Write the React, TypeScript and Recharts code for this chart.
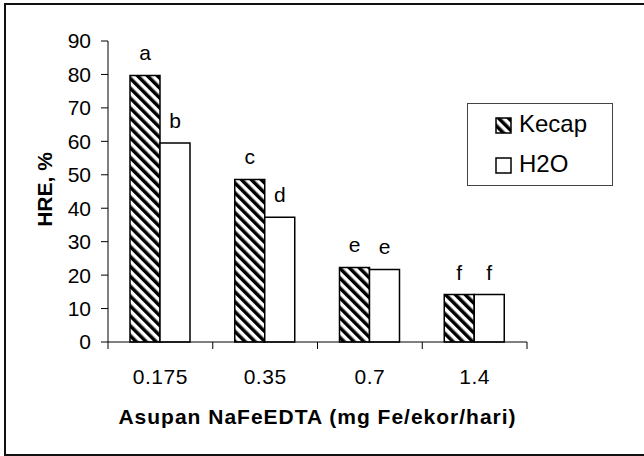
import { Bar, BarChart, LabelList, Legend, XAxis, YAxis } from "recharts";

const FONT = "'Liberation Sans', Arial, sans-serif";

// doses (mg Fe/ekor/hari)
const categories = ["0.175", "0.35", "0.7", "1.4"];
const seriesNames = ["Kecap", "H2O"];
const kecap = [79.7, 48.6, 22.3, 14.2];
const h2o = [59.5, 37.3, 21.7, 14.2];
const kecapLetters = ["a", "c", "e", "f"];
const h2oLetters = ["b", "d", "e", "f"];
const yTicks = [0, 10, 20, 30, 40, 50, 60, 70, 80, 90];

const data = categories.map((c, i) => ({
  dose: c,
  Kecap: kecap[i],
  H2O: h2o[i],
  kecapSig: kecapLetters[i],
  h2oSig: h2oLetters[i],
}));

function CategoryTick(props: any) {
  const { x, y, payload, index } = props;
  const half = payload?.offset ?? 0;
  return (
    <g>
      <line x1={x - half} x2={x - half} y1={y} y2={y + 7} stroke="#000" />
      {index === categories.length - 1 && (
        <line x1={x + half} x2={x + half} y1={y} y2={y + 7} stroke="#000" />
      )}
      <text x={x} y={y + 42} textAnchor="middle" fill="#000" fontSize={21} fontFamily={FONT} letterSpacing={0.5}>
        {payload.value}
      </text>
    </g>
  );
}

function YTitle(props: any) {
  const vb = props.viewBox || { x: 0, y: 0, width: 0, height: 0 };
  const cx = vb.x + 44;
  const cy = vb.y + vb.height / 2 - 2;
  return (
    <text
      x={cx}
      y={cy}
      transform={`rotate(-90 ${cx} ${cy})`}
      textAnchor="middle"
      dominantBaseline="central"
      fontSize={21}
      fontWeight="bold"
      fontFamily={FONT}
      fill="#000"
    >
      HRE, %
    </text>
  );
}

function Swatch({ hatched }: { hatched: boolean }) {
  return (
    <svg width={17} height={17} style={{ position: "absolute", left: 27, top: -8 }}>
      <defs>
        <pattern id="hatchLegend" width="7" height="7" patternUnits="userSpaceOnUse" patternTransform="rotate(-45)">
          <rect width="7" height="7" fill="#fff" />
          <rect width="3.5" height="7" fill="#000" />
        </pattern>
      </defs>
      <rect x={1} y={1} width={15} height={15} fill={hatched ? "url(#hatchLegend)" : "#fff"} stroke="#000" strokeWidth={1.5} />
    </svg>
  );
}

function LegendBox() {
  return (
    <div
      style={{
        position: "relative",
        width: 146,
        height: 83,
        border: "1.5px solid #444",
        boxSizing: "border-box",
        background: "#fff",
        fontFamily: FONT,
        fontSize: 24,
        color: "#000",
      }}
    >
      {seriesNames.map((name, i) => (
        <div key={name} style={{ position: "absolute", left: 0, top: 21 + i * 40, width: "100%" }}>
          <Swatch hatched={i === 0} />
          <span style={{ position: "absolute", left: 51, top: -14, lineHeight: "26px", whiteSpace: "nowrap" }}>{name}</span>
        </div>
      ))}
    </div>
  );
}

export default function App() {
  return (
    <div style={{ position: "absolute", left: 0, top: 0, width: 644, height: 456, background: "#fff" }}>
      <div
        style={{
          position: "absolute",
          left: 4,
          top: 3,
          width: 640,
          height: 453,
          border: "2px solid #111",
          borderRight: "none",
          boxSizing: "border-box",
        }}
      />
      <BarChart
        width={644}
        height={456}
        data={data}
        margin={{ top: 41, right: 117, bottom: 0, left: 0 }}
        barCategoryGap="21%"
        barGap={0}
        style={{ position: "absolute", left: 0, top: 0 }}
      >
        <defs>
          <pattern id="hatch" width="7" height="7" patternUnits="userSpaceOnUse" patternTransform="rotate(-45)">
            <rect width="7" height="7" fill="#fff" />
            <rect width="3.5" height="7" fill="#000" />
          </pattern>
        </defs>
        <XAxis
          dataKey="dose"
          height={114}
          tickLine={false}
          tickSize={0}
          tickMargin={0}
          axisLine={{ stroke: "#000" }}
          tick={<CategoryTick />}
          interval={0}
          label={{
            value: "Asupan NaFeEDTA (mg Fe/ekor/hari)",
            position: "insideBottom",
            offset: 32,
            fill: "#000",
            fontSize: 21,
            fontWeight: "bold",
            fontFamily: FONT,
            letterSpacing: 1,
          }}
        />
        <YAxis
          width={108}
          domain={[0, 90]}
          ticks={yTicks}
          interval={0}
          tickSize={7}
          tickMargin={10}
          axisLine={{ stroke: "#000" }}
          tickLine={{ stroke: "#000" }}
          tick={{ fill: "#000", fontSize: 21, fontFamily: FONT }}
          label={<YTitle />}
        />
        <Legend
          layout="vertical"
          align="center"
          verticalAlign="middle"
          content={<LegendBox />}
          wrapperStyle={{ position: "absolute", left: 467, top: 103, width: 146, height: 83 }}
        />
        <Bar dataKey="Kecap" fill="url(#hatch)" stroke="#000" strokeWidth={1.5} isAnimationActive={false}>
          <LabelList dataKey="kecapSig" position="top" offset={15} fill="#000" fontSize={21} fontFamily={FONT} />
        </Bar>
        <Bar dataKey="H2O" fill="#fff" stroke="#000" strokeWidth={1.5} isAnimationActive={false}>
          <LabelList dataKey="h2oSig" position="top" offset={15} fill="#000" fontSize={21} fontFamily={FONT} />
        </Bar>
      </BarChart>
    </div>
  );
}
